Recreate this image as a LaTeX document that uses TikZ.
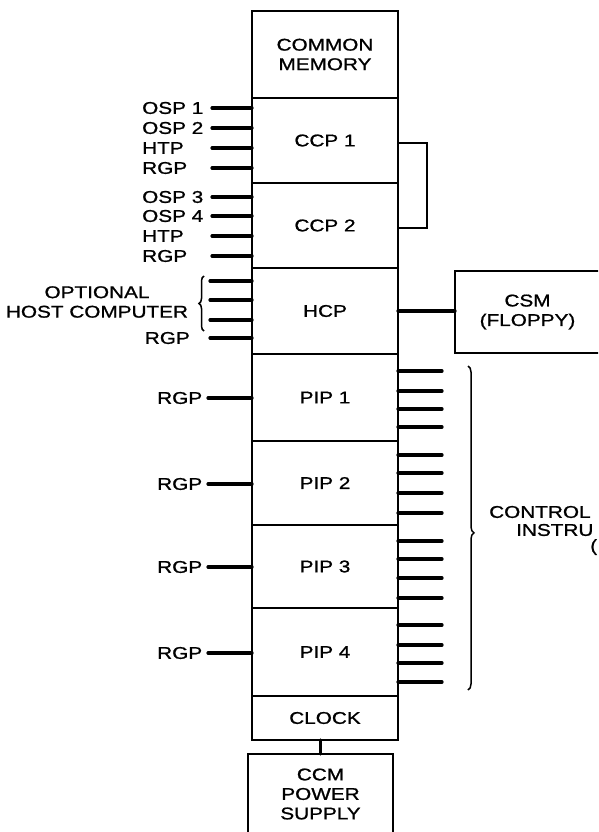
\documentclass[tikz,border=0pt]{standalone}
\usepackage{fontspec}
\setmainfont{Liberation Sans}[FakeStretch=1.22,FakeBold=1]
\usetikzlibrary{decorations.pathreplacing}
\begin{document}
\begin{tikzpicture}[x=1pt,y=-1pt,
  blk/.style={draw,line width=1.5pt,minimum width=146pt,inner sep=0pt,outer sep=0pt,align=center,font=\fontsize{17}{19.5}\selectfont},
  lab/.style={inner sep=0pt,align=center,font=\fontsize{17}{19.5}\selectfont},
  stub/.style={line width=3.2pt,line cap=round},
  link/.style={line width=1.5pt},
  brc/.style={line width=1.5pt,decorate,decoration={brace,amplitude=5pt}}]
  \useasboundingbox (0,0) rectangle (598,832);
  \clip (0,0) rectangle (598,832);
  % main column
  \foreach \nm/\y/\h/\txt in {mem/54.5/87/{COMMON\\MEMORY},ccp1/140.5/85/{CCP 1},ccp2/225.5/85/{CCP 2},
    hcp/311/86/HCP,pip1/397.5/87/{PIP 1},pip2/483/84/{PIP 2},pip3/566.5/83/{PIP 3},pip4/652/88/{PIP 4},clock/718/44/CLOCK}
    \node[blk,minimum height=\h pt] (\nm) at (325,\y) {\txt};
  \node[blk,minimum width=145pt,minimum height=80pt] (power) at (320.5,794) {CCM\\POWER\\SUPPLY};
  \node[blk,minimum width=145pt,minimum height=82pt] (csm) at (527.5,312) {CSM\\(FLOPPY)};
  \draw[stub] (power.north) -- (power.north |- clock.south);
  \draw[stub] (hcp.east) -- (hcp.east -| csm.west);
  \draw[link] ([yshift=-2.5pt]ccp1.east) -- ++(29,0) |- ([yshift=-2.5pt]ccp2.east);
  % ports on the left
  \foreach \i/\y/\t in {1/108/OSP 1,2/128/OSP 2,3/148/HTP,4/168/RGP,5/197/OSP 3,6/216/OSP 4,7/236/HTP,8/256/RGP} {
    \node[lab,anchor=west] (c\i) at (142,\y) {\t};
    \coordinate (cs\i) at (212,\y);
    \draw[stub] (cs\i) -- (cs\i -| ccp1.west);
  }
  \node[lab] (host) at (97,302) {OPTIONAL\\HOST COMPUTER};
  \node[lab,anchor=east] (hrgp) at (190,338) {RGP};
  \foreach \i/\y in {1/281,2/300,3/320,4/338} {
    \coordinate (hs\i) at (210,\y);
    \draw[stub] (hs\i) -- (hs\i -| hcp.west);
  }
  \coordinate (hb1) at (204,276); \coordinate (hb2) at (204,331);
  \draw[brc] (hb2) -- (hb1);
  \foreach \p/\y in {pip1/398,pip2/484,pip3/567,pip4/653} {
    \node[lab,anchor=west] (g\p) at (157,\y) {RGP};
    \coordinate (gs\p) at (208,\y);
    \draw[stub] (gs\p) -- (gs\p -| \p.west);
  }
  % control lines on the right
  \foreach \y [count=\i] in {371,391,409,427,455,473,493,513,541,559,578,598,625,645,663,682} {
    \coordinate (r\i) at (442,\y);
    \draw[stub] (r\i) -- (r\i -| pip1.east);
  }
  \coordinate (rb1) at (468,366); \coordinate (rb2) at (468,690);
  \draw[brc,decoration={aspect=0.515,amplitude=6pt}] (rb1) -- (rb2);
  \node[lab,anchor=west] (ctl1) at (489,512) {CONTROL};
  \node[lab,anchor=west] (ctl2) at (516,530) {INSTRU};
  \node[lab,anchor=west] (ctl3) at (590,547) {(};
\end{tikzpicture}
\end{document}
